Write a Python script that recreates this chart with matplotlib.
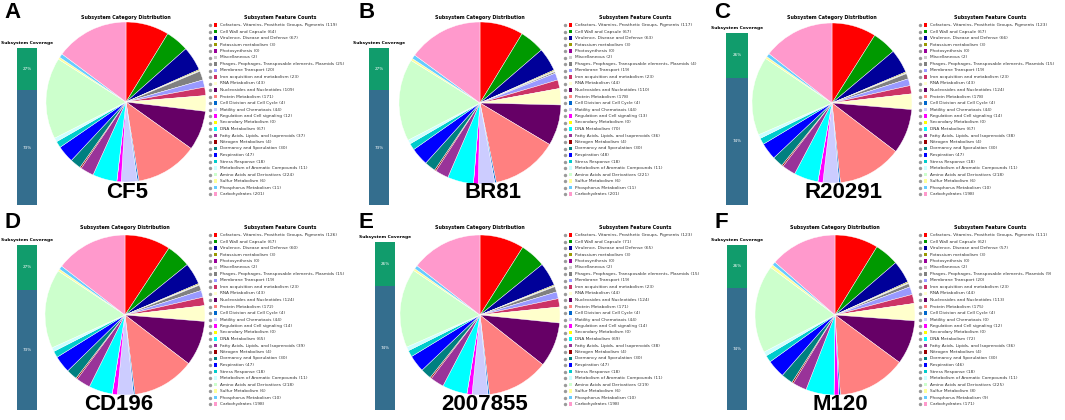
import matplotlib
matplotlib.use("Agg")
import matplotlib.pyplot as plt

W, H = 1065, 420
fig = plt.figure(figsize=(W / 100, H / 100), dpi=100)

categories = [
    "Cofactors, Vitamins, Prosthetic Groups, Pigments",
    "Cell Wall and Capsule",
    "Virulence, Disease and Defense",
    "Potassium metabolism",
    "Photosynthesis",
    "Miscellaneous",
    "Phages, Prophages, Transposable elements, Plasmids",
    "Membrane Transport",
    "Iron acquisition and metabolism",
    "RNA Metabolism",
    "Nucleosides and Nucleotides",
    "Protein Metabolism",
    "Cell Division and Cell Cycle",
    "Motility and Chemotaxis",
    "Regulation and Cell signaling",
    "Secondary Metabolism",
    "DNA Metabolism",
    "Fatty Acids, Lipids, and Isoprenoids",
    "Nitrogen Metabolism",
    "Dormancy and Sporulation",
    "Respiration",
    "Stress Response",
    "Metabolism of Aromatic Compounds",
    "Amino Acids and Derivatives",
    "Sulfur Metabolism",
    "Phosphorus Metabolism",
    "Carbohydrates",
]

category_colors = [
    "#FF0000", "#009900", "#000099", "#999900", "#990099", "#CCCCCC",
    "#808080", "#9999FF", "#CC3366", "#FFFFCC", "#660066", "#FF8080",
    "#0066CC", "#CCCCFF", "#FF00FF", "#FFFF00", "#00FFFF", "#993399",
    "#990000", "#008080", "#0000FF", "#00CCCC", "#CCFFFF", "#CCFFCC",
    "#FFFF99", "#66CCFF", "#FF99CC",
]

strains = ["CF5", "BR81", "R20291", "CD196", "2007855", "M120"]
panel_letters = ["A", "B", "C", "D", "E", "F"]

counts_CF5 = [119, 64, 67, 3, 0, 2, 25, 20, 23, 43, 109, 171, 4, 44, 12, 0, 67, 37, 4, 30, 47, 18, 11, 224, 6, 11, 201]
counts_BR81 = [117, 67, 63, 3, 0, 2, 4, 19, 23, 44, 110, 178, 4, 44, 13, 0, 70, 36, 4, 30, 48, 18, 11, 221, 6, 11, 201]
counts_R20291 = [123, 67, 66, 3, 0, 2, 15, 19, 23, 43, 124, 178, 4, 44, 14, 0, 67, 38, 4, 30, 47, 18, 11, 218, 6, 10, 198]
counts_CD196 = [126, 67, 60, 3, 0, 2, 15, 19, 23, 43, 124, 172, 4, 44, 14, 0, 65, 39, 4, 30, 47, 18, 11, 218, 6, 10, 198]
counts_2007855 = [123, 71, 65, 3, 0, 2, 15, 19, 23, 44, 124, 171, 4, 44, 14, 0, 69, 38, 4, 30, 47, 18, 11, 219, 6, 10, 198]
counts_M120 = [111, 62, 57, 3, 0, 2, 9, 20, 23, 44, 113, 175, 4, 0, 12, 0, 72, 36, 4, 30, 46, 18, 11, 225, 8, 9, 171]

coverage_in = [27, 27, 26, 27, 26, 26]
coverage_out = [73, 73, 74, 73, 74, 74]

all_counts = [counts_CF5, counts_BR81, counts_R20291, counts_CD196, counts_2007855, counts_M120]

COV_IN_COLOR = "#119C6C"
COV_OUT_COLOR = "#346E8E"

# layout (pixels, relative to each panel origin)
panels = [
    dict(ox=0, oy=0, cov_t=43, bar=(17, 48, 20, 157), pie=(126, 102, 80), lab=(127, 193)),
    dict(ox=355, oy=0, cov_t=43, bar=(14, 48, 20, 157), pie=(125, 103, 81), lab=(138, 193)),
    dict(ox=710, oy=0, cov_t=28, bar=(16, 33, 22, 172), pie=(122, 103, 80), lab=(134, 193)),
    dict(ox=0, oy=210, cov_t=30, bar=(17, 35, 20, 165), pie=(125, 105, 80), lab=(119, 195)),
    dict(ox=355, oy=210, cov_t=27, bar=(20, 32, 20, 168), pie=(125, 105, 80), lab=(130, 195)),
    dict(ox=710, oy=210, cov_t=30, bar=(17, 35, 20, 165), pie=(125, 105, 80), lab=(130, 195)),
]


def px_axes(x, y, w, h):
    return fig.add_axes([x / W, 1 - (y + h) / H, w / W, h / H])


def ftext(x, y, s, **kw):
    fig.text(x / W, 1 - y / H, s, **kw)


SMALL = "DejaVu Sans"
BOLD = "Liberation Sans"

for k, p in enumerate(panels):
    ox, oy = p["ox"], p["oy"]
    counts = all_counts[k]

    # panel letter
    ftext(ox + 4, oy + 2, panel_letters[k], fontsize=16, fontweight="bold",
          family=BOLD, ha="left", va="top")

    # coverage bar
    ftext(ox + p["bar"][0] + p["bar"][2] / 2, oy + p["cov_t"], "Subsystem Coverage",
          fontsize=3.2, fontweight="bold", family=SMALL, ha="center", va="center")
    bx, by, bw, bh = p["bar"]
    axb = px_axes(ox + bx, oy + by, bw, bh)
    axb.bar([0], [coverage_out[k]], width=1, color=COV_OUT_COLOR)
    axb.bar([0], [coverage_in[k]], bottom=[coverage_out[k]], width=1, color=COV_IN_COLOR)
    axb.text(0, coverage_out[k] + coverage_in[k] / 2, f"{coverage_in[k]}%", color="white",
             fontsize=3, ha="center", va="center", family=SMALL)
    axb.text(0, coverage_out[k] / 2, f"{coverage_out[k]}%", color="white",
             fontsize=3, ha="center", va="center", family=SMALL)
    axb.set_xlim(-0.5, 0.5)
    axb.set_ylim(0, 100)
    axb.axis("off")

    # pie
    cx, cy, r = p["pie"]
    ftext(ox + cx, oy + 17, "Subsystem Category Distribution", fontsize=3.4,
          fontweight="bold", family=SMALL, ha="center", va="center")
    axp = px_axes(ox + cx - r, oy + cy - r, 2 * r, 2 * r)
    axp.pie(counts, colors=category_colors, startangle=90, counterclock=False,
            wedgeprops=dict(edgecolor="white", linewidth=0.3))
    axp.set_xlim(-1, 1)
    axp.set_ylim(-1, 1)
    axp.set_aspect("equal")
    axp.axis("off")

    ftext(ox + p["lab"][0], oy + p["lab"][1], strains[k], fontsize=16,
          fontweight="bold", family=BOLD, ha="center", va="center")

    # legend
    lx0, ly0, lw, lh = 205, 10, 150, 195
    axl = px_axes(ox + lx0, oy + ly0, lw, lh)
    axl.set_xlim(0, lw)
    axl.set_ylim(lh, 0)
    axl.axis("off")
    axl.text(75, 8, "Subsystem Feature Counts", fontsize=3.4, fontweight="bold",
             family=SMALL, ha="center", va="center")
    n = len(categories)
    ys = [15 + i * 6.5 for i in range(n)]
    axl.scatter([5] * n, ys, s=6, marker="o", color="#9a9a9a", linewidths=0)
    axl.scatter([10.5] * n, ys, s=7, marker="s", color=category_colors, linewidths=0)
    for i, (cat, c) in enumerate(zip(categories, counts)):
        axl.text(15, ys[i], f"{cat} ({c})", fontsize=3.1, family=SMALL,
                 color="#333333", ha="left", va="center")

fig.savefig("out.png", dpi=100, facecolor="white")
